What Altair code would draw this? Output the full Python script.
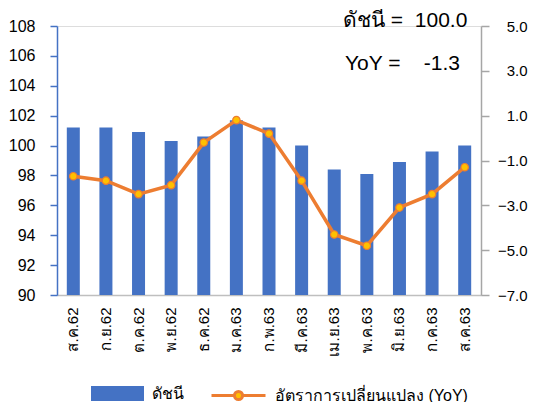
import altair as alt
import pandas as pd

months = ["ส.ค.62", "ก.ย.62", "ต.ค.62", "พ.ย.62", "ธ.ค.62", "ม.ค.63", "ก.พ.63",
          "มี.ค.63", "เม.ย.63", "พ.ค.63", "มิ.ย.63", "ก.ค.63", "ส.ค.63"]
index_vals = [101.2, 101.2, 100.9, 100.3, 100.6, 101.7, 101.2, 100.0, 98.4, 98.1, 98.9, 99.6, 100.0]
yoy_vals = [-1.7, -1.9, -2.5, -2.1, -0.2, 0.8, 0.2, -1.9, -4.3, -4.8, -3.1, -2.5, -1.3]
left_ticks = [90, 92, 94, 96, 98, 100, 102, 104, 106, 108]
right_ticks = [-7.0, -5.0, -3.0, -1.0, 1.0, 3.0, 5.0]
bar_name = "ดัชนี"
line_name = "อัตราการเปลี่ยนแปลง (YoY)"

FONT = "Tahoma, 'Liberation Sans', 'Noto Sans', 'DejaVu Sans', sans-serif"
BLUE = "#4472C4"
ORANGE = "#ED7D31"
GOLD = "#FFC000"

df = pd.DataFrame({"month": months, "index": index_vals, "yoy": yoy_vals,
                   "s1": [bar_name] * len(months), "s2": [line_name] * len(months)})

xenc = alt.X("month:N", sort=months, title=None,
             scale=alt.Scale(paddingInner=0, paddingOuter=0),
             axis=alt.Axis(labelAngle=270, ticks=False, domainColor="#BFBFBF", domainWidth=1.5,
                           labelFontSize=15, labelPadding=12, labelColor="#000000", labelFont=FONT))

bars = alt.Chart(df).mark_bar(size=13, color=BLUE, clip=True).encode(
    x=xenc,
    y=alt.Y("index:Q", title=None,
            scale=alt.Scale(domain=[90, 108], zero=False, nice=False),
            axis=alt.Axis(values=left_ticks, grid=False, domainColor=BLUE, domainWidth=1.5,
                          tickColor=BLUE, tickSize=7, tickWidth=1.5, labelFontSize=16,
                          labelPadding=15, labelColor="#000000", labelFont=FONT)),
    y2=alt.datum(90),
    fill=alt.Fill("s1:N", scale=alt.Scale(domain=[bar_name], range=[BLUE]),
                  legend=alt.Legend(orient="none", legendX=34, legendY=341, title=None,
                                    symbolType="M-1,-0.283H1V0.283H-1Z", symbolSize=2809,
                                    symbolStrokeWidth=0, labelFontSize=16, labelOffset=8,
                                    labelFont=FONT, labelColor="#000000")),
)

line = alt.Chart(df).mark_line(
    strokeWidth=3.5,
    point=alt.OverlayMarkDef(filled=True, fill=GOLD, stroke=ORANGE, strokeWidth=1.2, size=55),
).encode(
    x=alt.X("month:N", sort=months),
    y=alt.Y("yoy:Q", title=None,
            scale=alt.Scale(domain=[-7, 5], nice=False, zero=False),
            axis=alt.Axis(orient="right", values=right_ticks, format=".1f", grid=False,
                          domainColor="#A6A6A6", domainWidth=1.5, tickColor="#A6A6A6",
                          tickSize=8, tickWidth=1.5, labelFontSize=15, labelPadding=38,
                          labelAlign="right", labelColor="#000000", labelFont=FONT)),
    stroke=alt.Stroke("s2:N", scale=alt.Scale(domain=[line_name], range=[ORANGE]),
                      legend=alt.Legend(orient="none", legendX=153, legendY=341, title=None,
                                        symbolType="M-1,0H-0.15M0.15,0H1M0.15,0A0.15,0.15,0,1,1,-0.15,0A0.15,0.15,0,1,1,0.15,0Z",
                                        symbolSize=2916, symbolStrokeWidth=3,
                                        symbolFillColor=GOLD, labelFontSize=16, labelOffset=8,
                                        labelLimit=400,
                                        labelFont=FONT, labelColor="#000000")),
)

t1 = "ดัชนี =\u00a0\u00a0" + f"{index_vals[-1]:.1f}"
t2 = "YoY =\u00a0\u00a0\u00a0\u00a0" + f"{yoy_vals[-1]:.1f}"
ann = pd.DataFrame({"t": [t1, t2], "row": [0, 1]})
text1 = alt.Chart(ann).transform_filter("datum.row == 0").mark_text(
    align="left", baseline="alphabetic", fontSize=21, font=FONT, color="#000000"
).encode(x=alt.value(286), y=alt.value(1), text="t:N")
text2 = alt.Chart(ann).transform_filter("datum.row == 1").mark_text(
    align="left", baseline="alphabetic", fontSize=21, font=FONT, color="#000000"
).encode(x=alt.value(288), y=alt.value(44), text="t:N")

chart = alt.layer(bars, line, text1, text2).resolve_scale(
    y="independent", fill="independent", stroke="independent"
).properties(
    width=424, height=269,
    autosize=alt.AutoSizeParams(type="none"),
    padding={"left": 49, "top": 18, "right": 47, "bottom": 107},
).configure_view(stroke=None).configure(font=FONT)

chart.save("out.html", embed_options={"renderer": "svg", "actions": False})
